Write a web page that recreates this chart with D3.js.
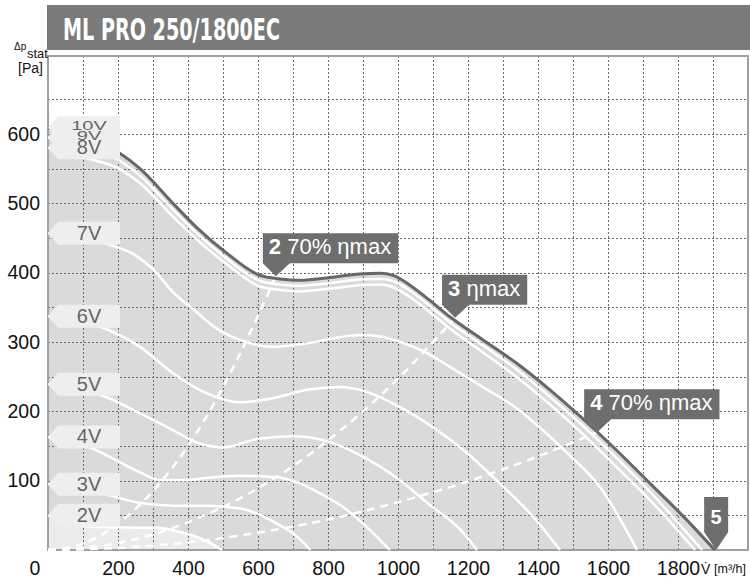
<!DOCTYPE html>
<html>
<head>
<meta charset="utf-8">
<script src="https://cdn.jsdelivr.net/npm/d3@7"></script>
<style>
body { margin: 0; background: #fff; }
text { font-family: "Liberation Sans", Arial, sans-serif; }
</style>
</head>
<body>
<script>
var width = 750;
var height = 581;

//Data
var title = "ML PRO 250/1800EC";
var xTicks = [200, 400, 600, 800, 1000, 1200, 1400, 1600, 1800];
var yTicks = [100, 200, 300, 400, 500, 600];
var voltLabels = ["10V", "9V", "8V", "7V", "6V", "5V", "4V", "3V", "2V"];

// [airflow m3/h, pressure Pa]
var v10 = [[0,609],[100,595],[206,572],[263,550],[357,500],[425,465],[511,428],[606,396],[663,391],[720,389],[806,393],[891,398],[949,399],[986,396],[1034,382],[1091,360],[1149,336],[1243,303],[1340,269],[1434,231],[1520,193],[1620,146],[1720,96],[1820,46],[1905,0]];
var v9 = [[0,595],[100,582],[206,561],[263,540],[357,491],[425,457],[511,420],[606,388],[663,383],[720,381],[806,385],[891,390],[949,391],[986,388],[1034,374],[1091,352],[1149,328],[1243,295],[1340,260],[1434,221],[1520,183],[1620,135],[1720,84],[1820,28],[1869,0]];
var v8 = [[0,580],[111,565],[206,549],[263,529],[357,481],[425,448],[511,412],[606,380],[663,375],[720,373],[806,377],[891,382],[949,383],[986,379],[1034,365],[1091,343],[1149,319],[1243,285],[1340,249],[1434,210],[1520,171],[1620,122],[1720,72],[1800,28],[1849,0]];
var v7 = [[0,457],[177,440],[250,425],[300,405],[357,372],[420,345],[480,320],[549,303],[643,293],[740,298],[834,307],[891,310],[950,308],[1006,300],[1083,284],[1149,264],[1243,235],[1340,204],[1386,185],[1483,140],[1577,91],[1683,0]];
var v6 = [[0,337],[169,318],[263,293],[357,255],[454,226],[549,213],[643,219],[740,231],[834,235],[911,228],[1006,206],[1100,177],[1197,140],[1291,96],[1386,48],[1463,0]];
var v5 = [[0,239],[169,220],[263,197],[357,173],[425,155],[500,148],[597,160],[700,164],[797,157],[891,137],[997,104],[1091,65],[1177,30],[1226,0]];
var v4 = [[0,163],[129,146],[200,128],[263,112],[320,101],[400,101],[454,104],[549,107],[654,105],[720,96],[769,84],[843,62],[911,33],[977,0]];
var v3 = [[0,95],[149,82],[263,68],[357,64],[454,64],[549,60],[600,52],[654,38],[700,24],[750,0]];
var v2 = [[0,50],[143,33],[314,32],[369,27],[420,20],[460,11],[497,0]];
var curves = [v10, v9, v8, v7, v6, v5, v4, v3, v2];

// system lines to the marked points
var sys2 = [[0,0],[100,9],[200,38],[300,85],[400,150],[500,235],[600,338],[651,395]];
var sys3 = [[0,0],[200,10],[400,40],[600,89],[800,158],[1000,247],[1163,335]];
var sys4 = [[0,0],[200,3],[400,11],[600,25],[800,44],[1000,69],[1200,99],[1400,135],[1569,170]];
var systemLines = [sys2, sys3, sys4];

var points = [
    {num: "2", txt: " 70% ηmax", q: 651, p: 395},
    {num: "3", txt: " ηmax", q: 1163, p: 335},
    {num: "4", txt: " 70% ηmax", q: 1569, p: 170}
];
var endPoint = {num: "5", q: 1909, p: 0};

//Canvas
var svg = d3.select("body")
.append("svg")
    .attr("width", width)
    .attr("height", height);

//Scales
var x = d3.scaleLinear()
    .domain([0, 2000])
    .range([48, 748]);

var y = d3.scaleLinear()
    .domain([0, 712.5])
    .range([550, 56]);

//Title
svg.append("rect")
    .attr("x", 47)
    .attr("y", 5)
    .attr("width", 703)
    .attr("height", 45)
    .attr("fill", "#7a7a7a");

svg.append("text")
    .attr("x", 63)
    .attr("y", 40)
    .attr("fill", "#fff")
    .attr("font-size", 31)
    .attr("font-weight", "bold")
    .style("font-family", "'Liberation Sans Narrow', 'DejaVu Sans Condensed', sans-serif")
    .attr("textLength", 217)
    .attr("lengthAdjust", "spacingAndGlyphs")
    .text(title);

//Areas
var area = d3.area()
    .x(d => x(d[0]))
    .y0(y(0))
    .y1(d => y(d[1]))
    .curve(d3.curveMonotoneX);

svg.append("path")
    .attr("d", area(v10))
    .attr("fill", "#dadada");

svg.append("path")
    .attr("d", area(v2))
    .attr("fill", "#ebebeb");

//Grid
var grid = svg.append("g")
    .attr("stroke", "#6a6a6a")
    .attr("stroke-width", 1)
    .attr("stroke-dasharray", "2,2");

grid.selectAll("line.v")
    .data(d3.range(100, 2000, 100))
    .enter()
    .append("line")
        .attr("class", "v")
        .attr("x1", d => x(d) + 0.5)
        .attr("x2", d => x(d) + 0.5)
        .attr("y1", y(712.5))
        .attr("y2", y(0));

grid.selectAll("line.h")
    .data(d3.range(50, 700, 50))
    .enter()
    .append("line")
        .attr("class", "h")
        .attr("x1", x(0))
        .attr("x2", x(2000))
        .attr("y1", d => Math.round(y(d)) + 0.5)
        .attr("y2", d => Math.round(y(d)) + 0.5);

//Frame
svg.append("rect")
    .attr("x", x(0))
    .attr("y", y(712.5))
    .attr("width", x(2000) - x(0))
    .attr("height", y(0) - y(712.5))
    .attr("fill", "none")
    .attr("stroke", "#a0a0a0")
    .attr("stroke-width", 2);

//Curves
var line = d3.line()
    .x(d => x(d[0]))
    .y(d => y(d[1]))
    .curve(d3.curveMonotoneX);

svg.selectAll("path.volt")
    .data(curves.slice(1))
    .enter()
    .append("path")
        .attr("class", "volt")
        .attr("d", line)
        .attr("fill", "none")
        .attr("stroke", "#fff")
        .attr("stroke-width", 2.5);

svg.selectAll("path.sys")
    .data(systemLines)
    .enter()
    .append("path")
        .attr("class", "sys")
        .attr("d", line)
        .attr("fill", "none")
        .attr("stroke", "#fff")
        .attr("stroke-width", 2.5)
        .attr("stroke-dasharray", "8,6");

svg.append("path")
    .attr("d", line(v10))
    .attr("fill", "none")
    .attr("stroke", "#676767")
    .attr("stroke-width", 3);

//Voltage labels
var tips = curves.map(c => y(c[0][1]));

tips.forEach((ty) => {
    var top = ty - 11.5, bottom = ty + 11.5;
    svg.append("path")
        .attr("d", "M" + x(0) + "," + ty + "L58," + top + "L120," + top + "L120," + bottom + "L58," + bottom + "Z")
        .attr("fill", "#eeeeee");
});

voltLabels.forEach((lab, i) => {
    var ty = tips[i];
    // stacked labels are squeezed to fit
    var stacked = i < tips.length - 1 && tips[i + 1] - ty < 20;
    var base = stacked ? ty + 2.5 : ty + 6.5;
    svg.append("text")
        .attr("transform", "translate(89," + base + ")" + (stacked ? " scale(1,0.6)" : ""))
        .attr("text-anchor", "middle")
        .attr("font-size", 20)
        .attr("fill", "#666")
        .text(lab);
});

//Callouts
points.forEach((d) => {
    var tx = x(d.q), ty = y(d.p);
    var left = tx - 13, bottom = ty - 13;
    var t = svg.append("text")
        .attr("x", left + 6)
        .attr("y", bottom - 9)
        .attr("font-size", 22)
        .attr("fill", "#fff");
    t.append("tspan").attr("font-weight", "bold").text(d.num);
    t.append("tspan").text(d.txt);
    var w = t.node().getComputedTextLength() + 13;
    svg.insert("path", function() { return t.node(); })
        .attr("d", "M" + left + "," + (bottom - 30) + "h" + w + "v30H" + (left + 27) + "L" + tx + "," + ty + "L" + left + "," + bottom + "Z")
        .attr("fill", "#6e6e6e");
});

var ex = x(endPoint.q), ey = y(endPoint.p);
svg.append("path")
    .attr("d", "M" + (ex - 12) + "," + (ey - 53) + "h24v35L" + ex + "," + ey + "L" + (ex - 12) + "," + (ey - 18) + "Z")
    .attr("fill", "#6e6e6e");
svg.append("text")
    .attr("x", ex)
    .attr("y", ey - 26)
    .attr("text-anchor", "middle")
    .attr("font-size", 20)
    .attr("font-weight", "bold")
    .attr("fill", "#fff")
    .text(endPoint.num);

//Axes
var xAxisCall = d3.axisBottom(x)
    .tickValues(xTicks)
    .tickSize(0)
    .tickPadding(11)
    .tickFormat(d3.format("d"));

var yAxisCall = d3.axisLeft(y)
    .tickValues(yTicks)
    .tickSize(0)
    .tickPadding(8)
    .tickFormat(d3.format("d"));

var xAxisGroup = svg.append("g")
    .attr("transform", "translate(0, " + y(0) + ")")
    .call(xAxisCall);

var yAxisGroup = svg.append("g")
    .attr("transform", "translate(" + x(0) + ", 0)")
    .call(yAxisCall);

[xAxisGroup, yAxisGroup].forEach((g) => {
    g.select(".domain").remove();
    g.selectAll("text")
        .attr("font-size", 19.5)
        .attr("fill", "#111")
        .style("font-family", "'Liberation Sans', Arial, sans-serif");
});

svg.append("text")
    .attr("x", 35)
    .attr("y", 575)
    .attr("text-anchor", "middle")
    .attr("font-size", 19.5)
    .attr("fill", "#111")
    .text("0");

//Labels
svg.append("text")
    .attr("x", 701)
    .attr("y", 574)
    .attr("font-size", 14)
    .attr("fill", "#111")
    .text("V\u0307");
svg.append("text")
    .attr("x", 714)
    .attr("y", 573)
    .attr("font-size", 12.5)
    .attr("fill", "#111")
    .text("[m³/h]");

svg.append("text")
    .attr("x", 14)
    .attr("y", 50)
    .attr("font-size", 10)
    .attr("fill", "#111")
    .text("Δp");
svg.append("text")
    .attr("x", 27)
    .attr("y", 58)
    .attr("font-size", 13)
    .attr("fill", "#111")
    .text("stat");
svg.append("text")
    .attr("x", 43)
    .attr("y", 73)
    .attr("text-anchor", "end")
    .attr("font-size", 14)
    .attr("fill", "#111")
    .text("[Pa]");
</script>
</body>
</html>
